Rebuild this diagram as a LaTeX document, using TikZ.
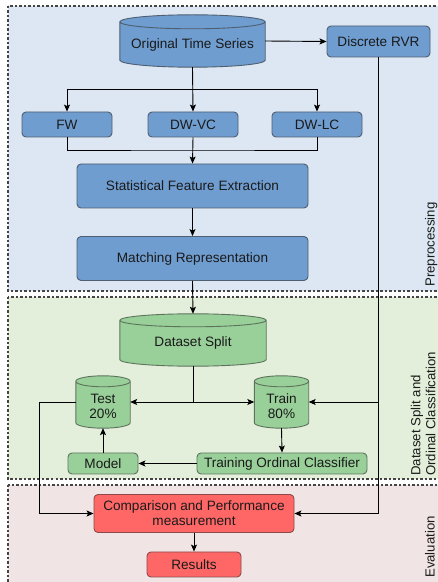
\documentclass[tikz,border=0pt]{standalone}
\usepackage{fontspec}
\setmainfont{Liberation Sans}
\usetikzlibrary{arrows.meta,calc}

\pgfdeclarelayer{panel}
\pgfdeclarelayer{cyl}
\pgfsetlayers{panel,cyl,main}

\definecolor{bluebg}{HTML}{DCE7F3}
\definecolor{greenbg}{HTML}{E3EFDA}
\definecolor{redbg}{HTML}{F1E4E4}
\definecolor{bluenode}{HTML}{6F9DD0}
\definecolor{blueline}{HTML}{4F5E70}
\definecolor{greennode}{HTML}{99CF99}
\definecolor{greenline}{HTML}{5E735E}
\definecolor{rednode}{HTML}{FF6666}
\definecolor{redline}{HTML}{8A4A4A}
\definecolor{txt}{HTML}{1A1A1A}
\definecolor{frame}{HTML}{444444}

% cylinder drawn behind the named outline node #1; #2 = half height of the ellipse
\newcommand\drawcyl[3]{%
  \begin{pgfonlayer}{cyl}
  \path[#3] let \p1=(#1.north west), \p2=(#1.south east), \n1={(\x2-\x1)/2} in
    (\x1,\y1-#2) -- (\x1,\y2+#2)
    arc[start angle=180, end angle=360, x radius=\n1, y radius=#2pt]
    -- (\x2,\y1-#2)
    arc[start angle=0, end angle=180, x radius=\n1, y radius=#2pt] -- cycle
    (\x1,\y1-#2) arc[start angle=180, end angle=360, x radius=\n1, y radius=#2pt];
  \end{pgfonlayer}}

\tikzset{
  base/.style={inner sep=0pt, align=center, text=txt,
    font=\fontsize{13.6}{15}\selectfont},
  box/.style={base, rounded corners=4pt, line width=0.9pt},
  bluebox/.style={box, fill=bluenode, draw=blueline},
  greenbox/.style={box, fill=greennode, draw=greenline},
  redbox/.style={box, fill=rednode, draw=redline},
  cylbox/.style={inner sep=0pt},
  cyltext/.style={base},
  bluecyl/.style={fill=bluenode, draw=blueline, line width=0.9pt},
  greencyl/.style={fill=greennode, draw=greenline, line width=0.9pt},
  panel/.style={draw=frame, line width=1.1pt, dash pattern=on 2.5pt off 2pt},
  sidelabel/.style={rotate=90, inner sep=0pt, text=txt, align=left,
    font=\fontsize{13.2}{15}\selectfont},
  conn/.style={line width=0.9pt, draw=black},
  arr/.style={conn, -{Stealth[length=7pt, width=6pt, inset=1.5pt]}},
}

\begin{document}
\begin{tikzpicture}[x=1pt, y=1pt]
\clip (0,0) rectangle (438,582);

% stage panels
\begin{pgfonlayer}{panel}
  \draw[panel, fill=bluebg]  (8,576) rectangle (470,291);
  \draw[panel, fill=greenbg] (8,285) rectangle (470,103);
  \draw[panel, fill=redbg]   (8,97)  rectangle (470,-20);
\end{pgfonlayer}

% stage labels
\node[sidelabel, anchor=base west] (lpre) at (434.5,295) {Preprocessing};
\node[sidelabel, anchor=north west] (ldsc) at (410.5,106)
  {Dataset Split and\\Ordinal Classification};
\node[sidelabel, anchor=base west] (leva) at (434.5,4) {Evaluation};

% preprocessing
\node[cylbox, minimum width=145, minimum height=52] (ots) at (192.5,541) {};
\drawcyl{ots}{7}{bluecyl}
\node[cyltext] (otst) at ([yshift=-4]ots.center) {Original Time Series};
\node[bluebox, minimum width=103, minimum height=31] (rvr) at (378.5,540.5) {Discrete RVR};
\node[bluebox, minimum width=90, minimum height=25] (fw)   at (67,457.5)  {FW};
\node[bluebox, minimum width=90, minimum height=25] (dwvc) at (193,457.5) {DW-VC};
\node[bluebox, minimum width=90, minimum height=25] (dwlc) at (317,457.5) {DW-LC};
\node[bluebox, minimum width=231, minimum height=44] (sfe) at (192.5,396) {Statistical Feature Extraction};
\node[bluebox, minimum width=231, minimum height=44] (mr)  at (192.5,323.5) {Matching Representation};

% dataset split and classification
\node[cylbox, minimum width=146, minimum height=52] (ds) at (193,242) {};
\drawcyl{ds}{6.5}{greencyl}
\node[cyltext] (dst) at ([yshift=-3]ds.center) {Dataset Split};
\node[cylbox, minimum width=54, minimum height=52] (test) at (103,180) {};
\drawcyl{test}{5.5}{greencyl}
\node[cyltext] (testt) at ([yshift=-4.5]test.center) {Test\\20\%};
\node[cylbox, minimum width=54, minimum height=52] (train) at (281.5,180) {};
\drawcyl{train}{5.5}{greencyl}
\node[cyltext] (traint) at ([yshift=-4.5]train.center) {Train\\80\%};
\node[greenbox, minimum width=70, minimum height=21]  (model) at (103,118.5) {Model};
\node[greenbox, minimum width=170, minimum height=21] (toc)   at (282,118.5) {Training Ordinal Classifier};

% evaluation
\node[redbox, minimum width=200, minimum height=38] (cpm) at (194,68.5)
  {Comparison and Performance\\measurement};
\node[redbox, minimum width=94, minimum height=25] (res) at (194,17.5) {Results};

% connectors: preprocessing
\draw[arr] (ots.east) -- (rvr.west);
\coordinate (fanout) at (192.5,493);
\draw[conn] (fw.north |- fanout) -- (dwlc.north |- fanout);
\draw[arr] (ots.south) -- (dwvc.north);
\draw[arr] (fw.north |- fanout) -- (fw.north);
\draw[arr] (dwlc.north |- fanout) -- (dwlc.north);
\coordinate (fanin) at (193,432);
\draw[conn] (fw.south) |- (fanin) -| (dwlc.south);
\draw[arr] (dwvc.south) -- (sfe.north);
\draw[arr] (sfe.south) -- (mr.north);
\draw[arr] (mr.south) -- (ds.north);

% connectors: split and classification
\coordinate (split) at (193,180);
\draw[conn] (ds.south) -- (split);
\draw[arr] (split) -- (test.east);
\draw[arr] (split) -- (train.west);
\coordinate (rvrdown) at (rvr.south |- cpm.east);
\draw[conn] (rvr.south) -- (rvrdown);
\draw[arr] (rvr.south |- train.east) -- (train.east);
\draw[arr] (train.south) -- (toc.north);
\draw[arr] (toc.west) -- (model.east);
\draw[arr] (model.north) -- (test.south);

% connectors: evaluation
\draw[arr] (rvrdown) -- (cpm.east);
\draw[arr] (test.west) -- ++(-36,0) |- (cpm.west);
\draw[arr] (cpm.south) -- (res.north);
\end{tikzpicture}
\end{document}
